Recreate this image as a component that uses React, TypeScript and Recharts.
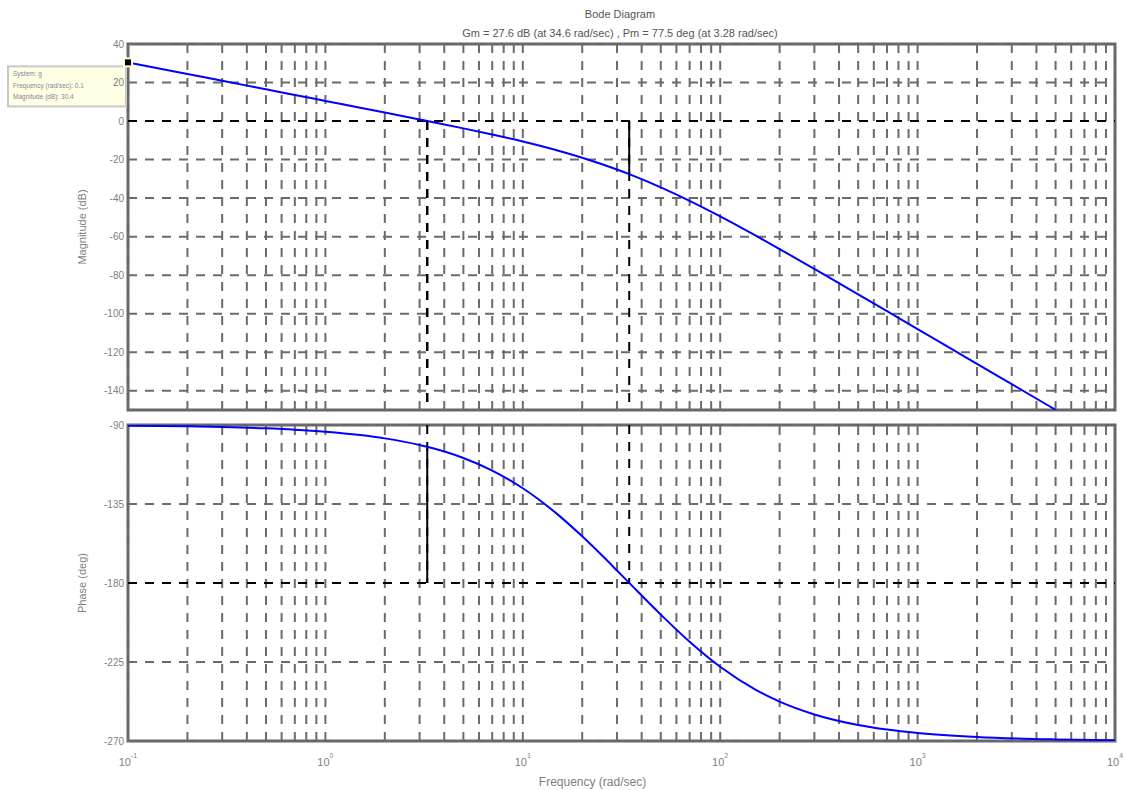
import React from "react";
import { LineChart, Line, XAxis, YAxis, ReferenceLine, ReferenceArea, ReferenceDot } from "recharts";

// frequencies (rad/sec) and values
const magFreq = [0.1, 0.2, 0.3, 0.5, 0.7, 1, 1.5, 2, 3, 3.28, 5, 7, 10, 15, 20, 30, 34.6, 50, 70, 100, 150, 200, 300, 500, 700, 1000, 1500, 2000, 3000, 5000];
const magDb = [30.46, 24.44, 20.92, 16.48, 13.56, 10.44, 6.91, 4.39, 0.81, 0.0, -3.81, -7.0, -10.63, -15.27, -19.03, -25.17, -27.58, -34.41, -41.39, -49.47, -59.25, -66.43, -76.77, -89.97, -98.7, -107.98, -118.52, -126.03, -136.59, -149.9];

const phaseFreq = [0.1, 0.2, 0.3, 0.5, 0.7, 1, 1.5, 2, 3, 3.28, 5, 7, 10, 15, 20, 30, 34.6, 50, 70, 100, 150, 200, 300, 500, 700, 1000, 2000, 5000, 10000];
const phaseDeg = [-90.38, -90.76, -91.15, -91.91, -92.67, -93.82, -95.72, -97.62, -101.39, -102.44, -108.8, -115.94, -126.03, -140.91, -153.43, -172.88, -179.94, -198.01, -213.45, -227.73, -240.61, -247.59, -254.88, -260.87, -263.46, -265.42, -267.71, -269.08, -269.55];

const xTicks = [
  0.1, 0.2, 0.3, 0.4, 0.5, 0.6, 0.7, 0.8, 0.9,
  1, 2, 3, 4, 5, 6, 7, 8, 9,
  10, 20, 30, 40, 50, 60, 70, 80, 90,
  100, 200, 300, 400, 500, 600, 700, 800, 900,
  1000, 2000, 3000, 4000, 5000, 6000, 7000, 8000, 9000,
  10000,
];
const magTicks = [40, 20, 0, -20, -40, -60, -80, -100, -120, -140];
const phaseTicks = [-90, -135, -180, -225, -270];

const xDomain = [0.1, 10000];
const magDomain = [-150, 40];
const phaseDomain = [-270, -90];

// margins
const gmFreq = 34.6;
const gmDb = -27.6;
const pmFreq = 3.28;
const pmPhase = -102.44;

const tipLines = ["System: g", "Frequency (rad/sec): 0.1", "Magnitude (dB): 30.4"];

const magData = magFreq.map((w, i) => ({ w, db: magDb[i] }));
const phaseData = phaseFreq.map((w, i) => ({ w, deg: phaseDeg[i] }));

const font = "'Liberation Sans', Arial, sans-serif";
const gridColor = "#6b6b6b";
const textColor = "#808080";

function FreqTick({ x, y, payload }: any) {
  const lg = Math.log10(payload.value);
  const e = Math.round(lg);
  if (Math.abs(lg - e) > 1e-6) return null;
  return (
    <text x={x} y={y + 25} textAnchor="middle" fill={textColor} fontSize={11} fontFamily={font}>
      10<tspan dy={-8} fontSize={7}>{e}</tspan>
    </text>
  );
}

function YLabel({ viewBox, value }: any) {
  const cx = viewBox.x + 14;
  const cy = viewBox.y + viewBox.height / 2;
  return (
    <text x={cx} y={cy} transform={`rotate(-90, ${cx}, ${cy})`} textAnchor="middle" dominantBaseline="central"
      fill={textColor} fontSize={11} fontFamily={font}>
      {value}
    </text>
  );
}

function DataTip({ cx, cy }: any) {
  return (
    <g>
      <rect x={cx - 120} y={cy + 4} width={118} height={40} fill="#ffffe4" stroke="#c8c8c8" strokeWidth={2} />
      {tipLines.map((t, i) => (
        <text key={i} x={cx - 115} y={cy + 14 + i * 11.5} fontSize={6.5} fill="#8a7f9a" fontFamily={font}>{t}</text>
      ))}
      <rect x={cx - 5} y={cy - 5} width={10} height={10} fill="#ffffd8" />
      <rect x={cx - 3} y={cy - 3} width={6} height={6} fill="#000" />
    </g>
  );
}

function gridLines(yTicks: number[]) {
  return [
    ...xTicks.map((w) => (
      <ReferenceLine key={"gx" + w} x={w} stroke={gridColor} strokeWidth={2} strokeDasharray="9 8" />
    )),
    ...yTicks.map((v) => (
      <ReferenceLine key={"gy" + v} y={v} stroke={gridColor} strokeWidth={2} strokeDasharray="9 8" />
    )),
  ];
}

export default function App() {
  return (
    <div style={{ position: "relative", width: 1125, height: 790, background: "#fff", fontFamily: font }}>
      <style>{`body{margin:0}`}</style>
      <div style={{ position: "absolute", top: 5, left: 0, width: 1240, textAlign: "center", fontSize: 11, color: "#555", lineHeight: "19px" }}>
        <div>Bode Diagram</div>
        <div>Gm = 27.6 dB  (at 34.6  rad/sec) ,  Pm = 77.5  deg (at 3.28 rad/sec)</div>
      </div>

      <div style={{ position: "absolute", top: 0, left: 0 }}>
        <LineChart width={1125} height={420} data={magData} margin={{ top: 44, right: 10, bottom: 10, left: 68 }}>
          <XAxis dataKey="w" type="number" scale="log" domain={xDomain} ticks={xTicks} allowDataOverflow hide />
          <YAxis type="number" domain={magDomain} ticks={magTicks} interval={0} width={60} allowDataOverflow
            axisLine={false} tickLine={false} tickSize={0} tickMargin={4}
            tick={{ fill: textColor, fontSize: 10, fontFamily: font }}
            label={<YLabel value="Magnitude (dB)" />} />
          {gridLines(magTicks)}
          <ReferenceLine y={0} stroke="#000" strokeWidth={2} strokeDasharray="9 8" />
          <ReferenceLine segment={[{ x: pmFreq, y: 0 }, { x: pmFreq, y: magDomain[0] }]} stroke="#000" strokeWidth={2.5} strokeDasharray="9 8" />
          <ReferenceLine segment={[{ x: gmFreq, y: 0 }, { x: gmFreq, y: magDomain[0] }]} stroke="#000" strokeWidth={2} strokeDasharray="9 8" />
          <ReferenceLine segment={[{ x: gmFreq, y: 0 }, { x: gmFreq, y: gmDb }]} stroke="#000" strokeWidth={2} />
          <ReferenceArea x1={xDomain[0]} x2={xDomain[1]} y1={magDomain[0]} y2={magDomain[1]} fill="none"
            stroke="#666" strokeWidth={3} ifOverflow="visible" />
          <Line dataKey="db" type="monotone" stroke="#0000ff" strokeWidth={2} dot={false} isAnimationActive={false} />
          <ReferenceDot x={magFreq[0]} y={magDb[0]} ifOverflow="visible" shape={(p: any) => <DataTip {...p} />} />
        </LineChart>
      </div>

      <div style={{ position: "absolute", top: 415, left: 0 }}>
        <LineChart width={1125} height={375} data={phaseData} margin={{ top: 10, right: 10, bottom: 0, left: 68 }}>
          <XAxis dataKey="w" type="number" scale="log" domain={xDomain} ticks={xTicks} interval={0} allowDataOverflow
            height={49} axisLine={false} tickLine={false} tickSize={0} tickMargin={0} tick={<FreqTick />}
            label={{ value: "Frequency  (rad/sec)", position: "insideBottom", offset: 4, dx: -29, fill: textColor, fontSize: 12, fontFamily: font }} />
          <YAxis type="number" domain={phaseDomain} ticks={phaseTicks} interval={0} width={60} allowDataOverflow
            axisLine={false} tickLine={false} tickSize={0} tickMargin={4}
            tick={{ fill: textColor, fontSize: 10, fontFamily: font }}
            label={<YLabel value="Phase (deg)" />} />
          {gridLines(phaseTicks)}
          <ReferenceLine y={-180} stroke="#000" strokeWidth={2} strokeDasharray="9 8" />
          <ReferenceLine segment={[{ x: gmFreq, y: phaseDomain[1] }, { x: gmFreq, y: -180 }]} stroke="#000" strokeWidth={2} strokeDasharray="9 8" />
          <ReferenceLine segment={[{ x: pmFreq, y: phaseDomain[1] }, { x: pmFreq, y: -180 }]} stroke="#000" strokeWidth={2} strokeDasharray="9 8" />
          <ReferenceLine segment={[{ x: pmFreq, y: -180 }, { x: pmFreq, y: pmPhase }]} stroke="#000" strokeWidth={2} />
          <ReferenceArea x1={xDomain[0]} x2={xDomain[1]} y1={phaseDomain[0]} y2={phaseDomain[1]} fill="none"
            stroke="#666" strokeWidth={3} ifOverflow="visible" />
          <Line dataKey="deg" type="monotone" stroke="#0000ff" strokeWidth={2} dot={false} isAnimationActive={false} />
        </LineChart>
      </div>
    </div>
  );
}
